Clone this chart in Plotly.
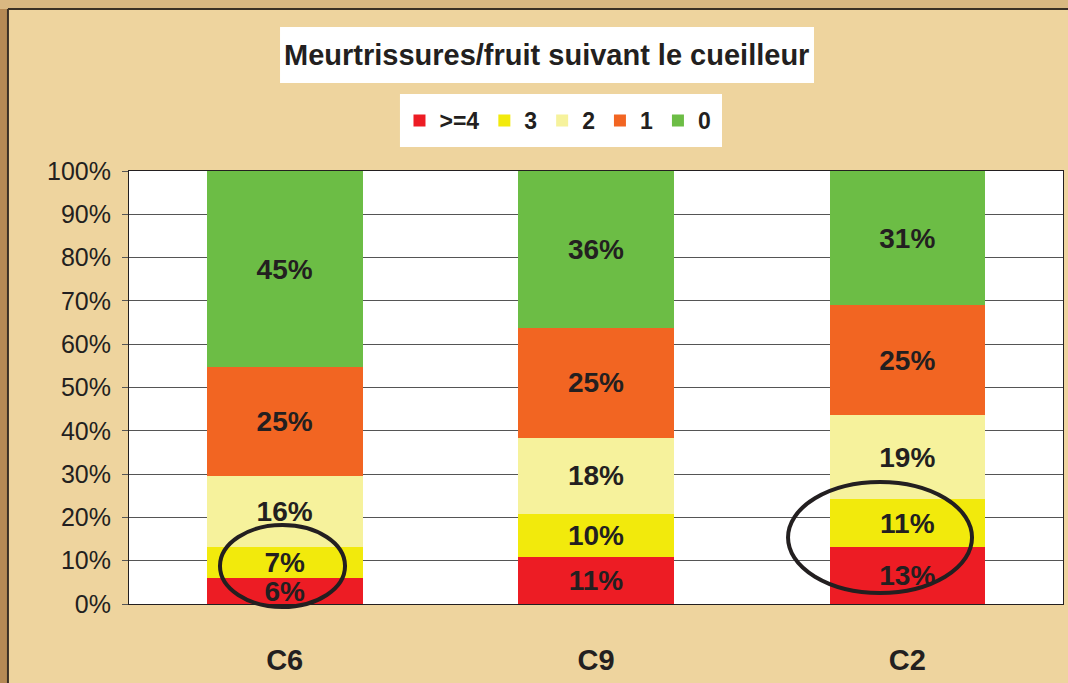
import plotly.graph_objects as go

categories = ["C6", "C9", "C2"]
series_names = [">=4", "3", "2", "1", "0"]
v_ge4 = [6.0, 10.8, 13.2]
v_3 = [7.2, 10.0, 11.0]
v_2 = [16.4, 17.6, 19.4]
v_1 = [25.1, 25.4, 25.4]
v_0 = [45.3, 36.2, 31.0]
y_ticks = [0, 10, 20, 30, 40, 50, 60, 70, 80, 90, 100]
y_tick_labels = ["0%", "10%", "20%", "30%", "40%", "50%", "60%", "70%", "80%", "90%", "100%"]
title_text = "Meurtrissures/fruit suivant le cueilleur"

series_values = [v_ge4, v_3, v_2, v_1, v_0]
colors = ["#ED1C24", "#F2EA0C", "#F6F29C", "#F26522", "#6CBD45"]

FONT = "Liberation Sans, Arial, sans-serif"

fig = go.Figure()
for name, vals, col in zip(series_names, series_values, colors):
    fig.add_trace(go.Bar(
        x=categories, y=vals, name=name,
        marker=dict(color=col, line=dict(width=0)),
        texttemplate="%{y:.0f}%",
        textposition="inside",
        insidetextanchor="middle",
        constraintext="none",
        textangle=0,
        textfont=dict(family=FONT, size=28, color="#231F20", weight="bold"),
    ))

fig.update_layout(
    barmode="stack",
    bargap=0.5,
    width=1068, height=683,
    margin=dict(l=129, r=5, t=171, b=79),
    paper_bgcolor="#EED49E",
    plot_bgcolor="#FFFFFF",
    showlegend=True,
    legend=dict(
        orientation="h", traceorder="normal",
        x=0.4593, xanchor="center", y=1.1166, yanchor="middle",
        bgcolor="rgba(0,0,0,0)", borderwidth=0,
        font=dict(family=FONT, size=23, color="#231F20", weight="bold"),
        itemwidth=30, itemsizing="constant",
    ),
    font=dict(family=FONT, color="#231F20"),
)

fig.update_yaxes(
    range=[0, 100], tickvals=y_ticks, ticktext=y_tick_labels,
    showgrid=True, gridcolor="#555555", gridwidth=1,
    ticks="outside", ticklen=6, tickcolor="#555555",
    showline=True, linecolor="#231F20", linewidth=1, mirror=True,
    tickfont=dict(family=FONT, size=25, color="#231F20"),
    ticklabelstandoff=6,
    zeroline=False,
)
fig.update_xaxes(
    showline=True, linecolor="#231F20", linewidth=1, mirror=True,
    ticks="", ticklabelstandoff=30,
    tickfont=dict(family=FONT, size=29, color="#231F20", weight="bold"),
)

# white boxes behind title and legend
fig.add_shape(type="rect", xref="paper", yref="paper",
              x0=0.1617, x1=0.7334, y0=1.2032, y1=1.3326,
              fillcolor="#FFFFFF", line=dict(width=0), layer="below")
fig.add_shape(type="rect", xref="paper", yref="paper",
              x0=0.2901, x1=0.6349, y0=1.0554, y1=1.1778,
              fillcolor="#FFFFFF", line=dict(width=0), layer="below")

fig.add_annotation(
    text=title_text, xref="paper", yref="paper",
    x=0.4475, y=1.2679, xanchor="center", yanchor="middle",
    showarrow=False,
    font=dict(family=FONT, size=29, color="#231F20", weight="bold"),
)

# ellipses highlighting low segments
fig.add_shape(type="circle", xref="paper", yref="paper",
              x0=0.0974, x1=0.2313, y0=-0.0069, y1=0.1824,
              line=dict(color="#231F20", width=4), layer="above")
fig.add_shape(type="circle", xref="paper", yref="paper",
              x0=0.7056, x1=0.9026, y0=0.0254, y1=0.2818,
              line=dict(color="#231F20", width=4), layer="above")

# page frame
fig.add_shape(type="rect", xref="paper", yref="paper",
              x0=-0.14, x1=-0.1296, y0=-0.2, y1=1.45,
              fillcolor="#B58A55", line=dict(width=0), layer="below")
fig.add_shape(type="rect", xref="paper", yref="paper",
              x0=-0.14, x1=1.01, y0=1.374, y1=1.45,
              fillcolor="#D9B882", line=dict(width=0), layer="below")
fig.add_shape(type="line", xref="paper", yref="paper",
              x0=-0.1296, x1=1.01, y0=1.374, y1=1.374,
              line=dict(color="#3A3025", width=2), layer="below")
fig.add_shape(type="line", xref="paper", yref="paper",
              x0=-0.1296, x1=-0.1296, y0=-0.2, y1=1.374,
              line=dict(color="#3A3025", width=2), layer="below")

fig.write_html("out.html", config={"displayModeBar": False},
               post_script="document.body.style.margin='0';document.body.style.overflow='hidden';")
